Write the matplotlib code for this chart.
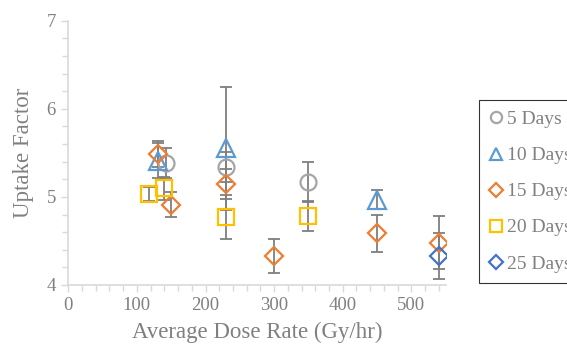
import matplotlib
matplotlib.use("Agg")
import matplotlib.pyplot as plt
from matplotlib.ticker import MultipleLocator

# Uptake factor vs. average dose rate, grouped by exposure time
series_names = ["5 Days", "10 Days", "15 Days", "20 Days", "25 Days"]

dose_5d = [142, 230, 350]
uptake_5d = [5.39, 5.34, 5.17]
err_5d = [0.17, 0.17, 0.23]

dose_10d = [130, 230, 450]
uptake_10d = [5.41, 5.55, 4.97]
err_10d = [0.20, 0.70, 0.11]

dose_15d = [130, 150, 230, 300, 450, 540]
uptake_15d = [5.49, 4.91, 5.15, 4.33, 4.59, 4.48]
err_15d = [0.15, 0.14, 0.17, 0.19, 0.21, 0.30]

dose_20d = [118, 140, 230, 350]
uptake_20d = [5.03, 5.10, 4.77, 4.78]
err_20d = [0.08, 0.13, 0.25, 0.17]

dose_25d = [540]
uptake_25d = [4.33]
err_25d = [0.26]

x_ticks = [0, 100, 200, 300, 400, 500]
y_ticks = [4, 5, 6, 7]

styles = [
    dict(marker="o", color="#A5A5A5", ms=11.5),
    dict(marker="^", color="#5B9BD5", ms=12.5),
    dict(marker="D", color="#ED7D31", ms=9.5),
    dict(marker="s", color="#FFC000", ms=11.5),
    dict(marker="D", color="#4472C4", ms=9.5),
]

data = [
    (dose_5d, uptake_5d, err_5d),
    (dose_10d, uptake_10d, err_10d),
    (dose_15d, uptake_15d, err_15d),
    (dose_20d, uptake_20d, err_20d),
    (dose_25d, uptake_25d, err_25d),
]

plt.rcParams["font.family"] = ["Liberation Serif", "DejaVu Serif"]
text_color = "#808080"
axis_color = "#D9D9D9"

fig = plt.figure(figsize=(5.67, 3.47), dpi=100)
ax = fig.add_axes([0.1205, 0.1787, 0.6655, 0.7616])

handles = []
for name, (xs, ys, es), st in zip(series_names, data, styles):
    ax.errorbar(xs, ys, yerr=es, fmt="none", ecolor="#7F7F7F",
                elinewidth=1.3, capsize=4, capthick=1.3, zorder=2)
    h, = ax.plot(xs, ys, linestyle="none", marker=st["marker"],
                 markersize=st["ms"], markerfacecolor="none",
                 markeredgecolor=st["color"], markeredgewidth=1.6,
                 label=name, zorder=3)
    handles.append(h)

ax.set_xlim(0, 550)
ax.set_ylim(4, 7)
ax.set_xticks(x_ticks)
ax.set_yticks(y_ticks)
ax.xaxis.set_minor_locator(MultipleLocator(20))
ax.yaxis.set_minor_locator(MultipleLocator(0.2))

for side in ("top", "right"):
    ax.spines[side].set_visible(False)
for side in ("left", "bottom"):
    ax.spines[side].set_color(axis_color)
    ax.spines[side].set_linewidth(1.2)

ax.tick_params(which="both", direction="out", color=axis_color, width=1.0,
               labelcolor=text_color, labelsize=13.5)
ax.tick_params(which="major", length=5, pad=4)
ax.tick_params(which="minor", length=4)

ax.set_xlabel("Average Dose Rate (Gy/hr)", color=text_color, fontsize=16.5,
              labelpad=5)
ax.set_ylabel("Uptake Factor", color=text_color, fontsize=16.5, labelpad=9)

leg = fig.legend(handles=handles, loc="upper left",
                 bbox_to_anchor=(0.845, 0.712), bbox_transform=fig.transFigure,
                 borderaxespad=0, frameon=True, fancybox=False,
                 fontsize=14, labelcolor=text_color, markerscale=0.7,
                 handlelength=0.65, handletextpad=0.25, labelspacing=0.95,
                 borderpad=0.55)
leg.get_frame().set_edgecolor("#000000")
leg.get_frame().set_linewidth(0.8)

fig.savefig("out.png", dpi=100)
